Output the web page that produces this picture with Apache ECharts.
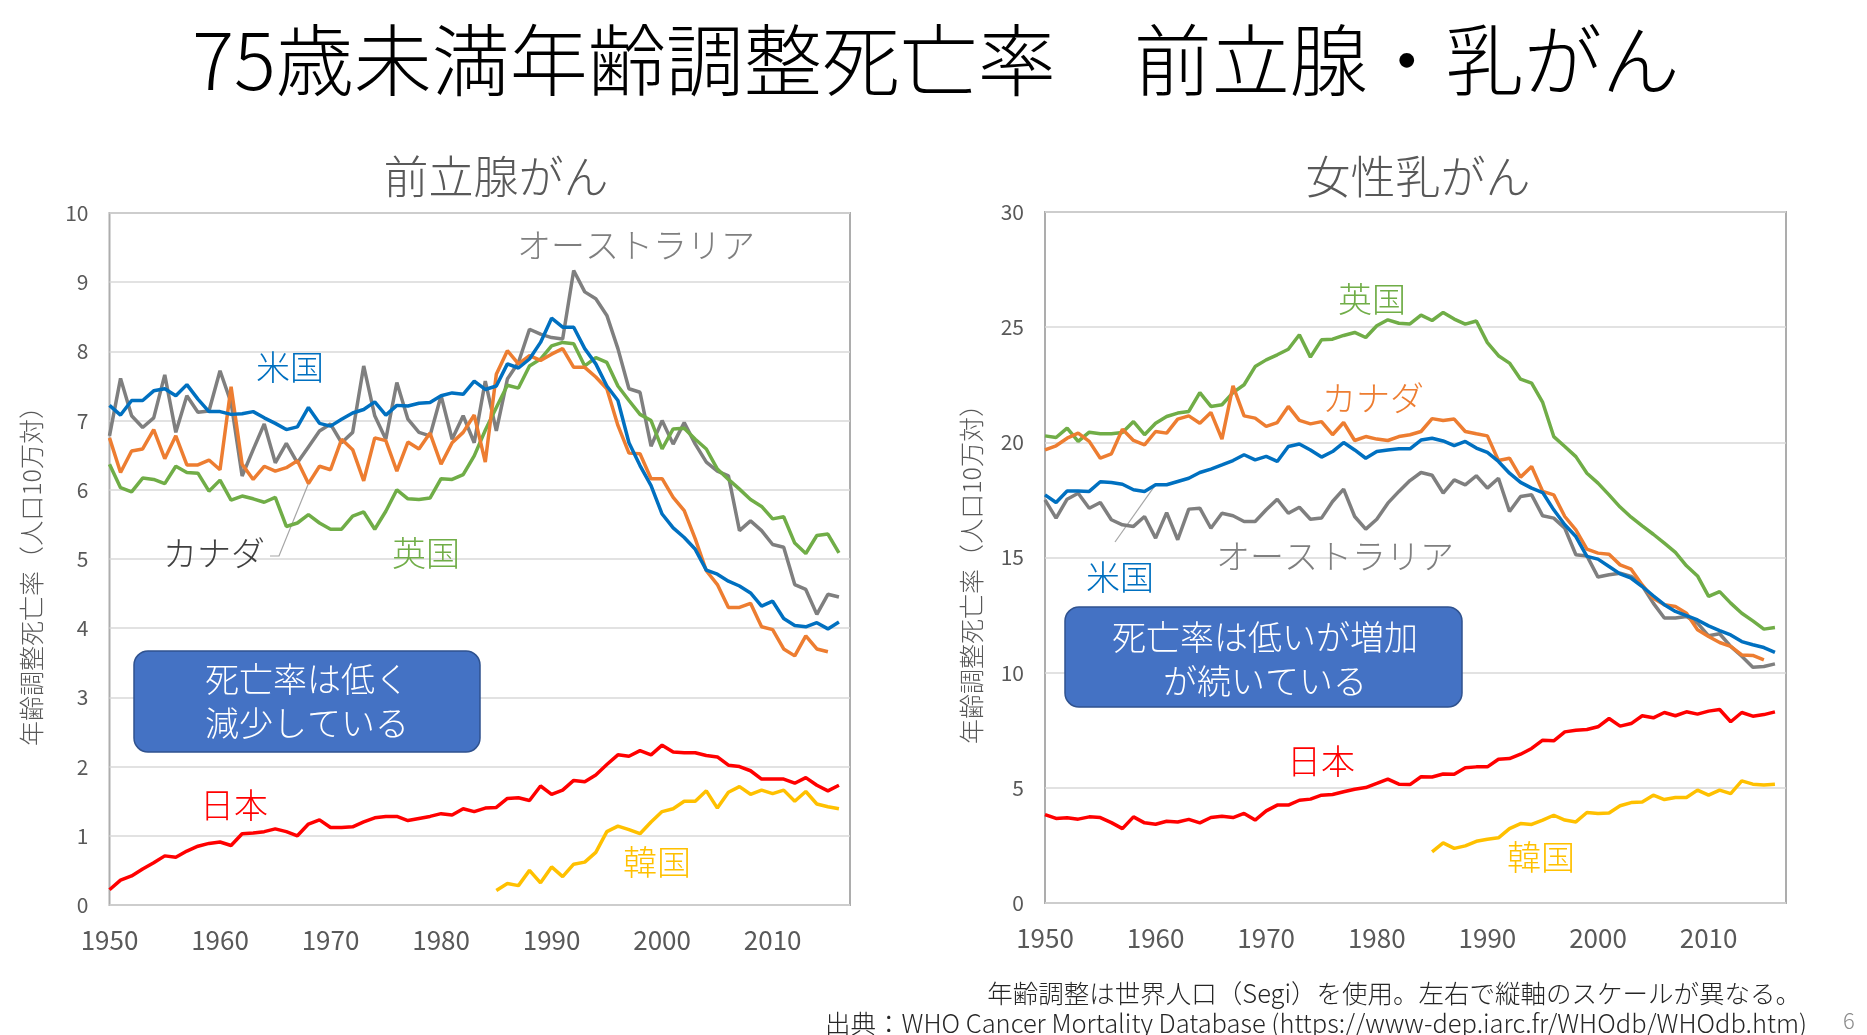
<!DOCTYPE html>
<html>
<head>
<meta charset="utf-8">
<script src="https://cdn.jsdelivr.net/npm/echarts@6.0.0/dist/echarts.min.js"></script>
<style>
  html, body { margin: 0; padding: 0; background: #fff; }
  #main { width: 1867px; height: 1035px; }
</style>
</head>
<body>
<div id="main"></div>
<script>
// 年
const YEARS = [1950,1951,1952,1953,1954,1955,1956,1957,1958,1959,
  1960,1961,1962,1963,1964,1965,1966,1967,1968,1969,
  1970,1971,1972,1973,1974,1975,1976,1977,1978,1979,
  1980,1981,1982,1983,1984,1985,1986,1987,1988,1989,
  1990,1991,1992,1993,1994,1995,1996,1997,1998,1999,
  2000,2001,2002,2003,2004,2005,2006,2007,2008,2009,
  2010,2011,2012,2013,2014,2015,2016];
const X_TICKS = { min: 1950, max: 2017, interval: 10 };

// 前立腺がん (1950-)
const PR_AUS = [6.78,7.61,7.07,6.90,7.04,7.66,6.83,7.36,7.12,7.14,
  7.72,7.26,6.20,6.58,6.95,6.39,6.67,6.39,6.62,6.85,
  6.95,6.68,6.83,7.79,7.07,6.73,7.55,7.02,6.83,6.78,
  7.36,6.73,7.07,6.68,7.57,6.85,7.60,7.84,8.32,8.25,
  8.20,8.18,9.17,8.86,8.76,8.52,8.04,7.46,7.41,6.63,
  7.00,6.66,6.97,6.66,6.40,6.27,6.20,5.41,5.55,5.41,
  5.21,5.17,4.63,4.56,4.20,4.49,4.45];
const PR_UK = [6.37,6.03,5.97,6.17,6.15,6.09,6.34,6.25,6.24,5.98,
  6.14,5.85,5.91,5.87,5.82,5.89,5.47,5.52,5.64,5.52,
  5.43,5.43,5.62,5.68,5.43,5.69,6.00,5.87,5.86,5.88,
  6.16,6.15,6.22,6.49,6.86,7.19,7.51,7.47,7.79,7.89,
  8.08,8.13,8.11,7.79,7.91,7.84,7.50,7.29,7.09,7.00,
  6.59,6.88,6.89,6.73,6.59,6.30,6.15,6.01,5.86,5.76,
  5.58,5.61,5.23,5.08,5.34,5.36,5.09];
const PR_CAN = [6.75,6.25,6.56,6.59,6.87,6.45,6.78,6.36,6.36,6.43,
  6.29,7.49,6.37,6.15,6.34,6.27,6.32,6.42,6.09,6.34,
  6.29,6.73,6.58,6.13,6.75,6.71,6.27,6.69,6.59,6.82,
  6.37,6.68,6.83,7.08,6.40,7.67,8.01,7.82,7.94,7.87,
  7.96,8.04,7.77,7.77,7.63,7.46,6.93,6.53,6.52,6.16,
  6.16,5.89,5.70,5.29,4.83,4.63,4.30,4.30,4.36,4.02,
  3.98,3.70,3.60,3.89,3.70,3.66];
const PR_USA = [7.22,7.08,7.29,7.29,7.43,7.46,7.36,7.52,7.31,7.13,
  7.13,7.09,7.10,7.13,7.04,6.96,6.87,6.91,7.19,6.96,
  6.92,7.02,7.11,7.16,7.27,7.08,7.22,7.21,7.25,7.26,
  7.36,7.40,7.38,7.57,7.45,7.50,7.82,7.76,7.89,8.13,
  8.48,8.35,8.35,8.04,7.82,7.50,7.29,6.68,6.35,6.06,
  5.65,5.45,5.31,5.14,4.84,4.78,4.68,4.61,4.51,4.32,
  4.39,4.14,4.04,4.02,4.08,3.99,4.09];
const PR_JPN = [0.22,0.36,0.42,0.52,0.61,0.71,0.69,0.78,0.85,0.89,
  0.91,0.86,1.03,1.04,1.06,1.10,1.06,1.00,1.17,1.23,
  1.12,1.12,1.13,1.20,1.26,1.28,1.28,1.22,1.25,1.28,
  1.32,1.30,1.39,1.35,1.40,1.41,1.54,1.55,1.51,1.72,
  1.60,1.66,1.80,1.78,1.88,2.03,2.17,2.15,2.23,2.17,
  2.31,2.21,2.20,2.20,2.16,2.14,2.02,2.00,1.94,1.82,
  1.82,1.82,1.76,1.84,1.73,1.65,1.73];
// 韓国は1985年から
const PR_KOR = [0.21,0.31,0.28,0.50,0.32,
  0.55,0.41,0.59,0.62,0.76,1.06,1.14,1.09,1.03,1.20,
  1.35,1.39,1.50,1.50,1.65,1.40,1.63,1.71,1.60,1.66,
  1.61,1.66,1.50,1.64,1.46,1.42,1.39];

// 女性乳がん (1950-)
const BR_AUS = [17.50,16.71,17.53,17.79,17.14,17.39,16.64,16.42,16.35,16.78,
  15.84,16.95,15.77,17.10,17.14,16.27,16.92,16.81,16.56,16.56,
  17.07,17.53,16.92,17.18,16.66,16.71,17.43,17.97,16.78,16.23,
  16.66,17.36,17.87,18.34,18.69,18.57,17.80,18.37,18.15,18.55,
  18.01,18.44,17.00,17.65,17.72,16.81,16.71,16.27,15.12,15.07,
  14.15,14.25,14.32,14.18,13.77,13.02,12.37,12.37,12.44,12.15,
  11.60,11.69,11.14,10.71,10.24,10.27,10.38];
const BR_UK = [20.28,20.21,20.62,20.04,20.44,20.37,20.37,20.43,20.90,20.33,
  20.83,21.12,21.27,21.34,22.16,21.56,21.63,22.16,22.50,23.29,
  23.58,23.80,24.04,24.67,23.70,24.45,24.48,24.64,24.77,24.55,
  25.06,25.32,25.17,25.14,25.52,25.29,25.64,25.35,25.13,25.27,
  24.33,23.76,23.44,22.74,22.57,21.73,20.25,19.82,19.38,18.66,
  18.23,17.72,17.19,16.75,16.37,16.01,15.62,15.22,14.64,14.20,
  13.31,13.52,13.02,12.58,12.25,11.89,11.96];
const BR_CAN = [19.67,19.85,20.18,20.40,20.04,19.31,19.50,20.57,20.08,19.89,
  20.47,20.40,21.01,21.15,20.83,21.30,20.14,22.45,21.15,21.05,
  20.69,20.86,21.56,20.95,20.80,20.90,20.33,20.86,20.08,20.25,
  20.14,20.08,20.25,20.33,20.47,21.03,20.95,21.01,20.47,20.37,
  20.28,19.21,19.31,18.49,18.95,17.87,17.72,16.78,16.20,15.36,
  15.19,15.14,14.68,14.49,13.81,13.23,12.95,12.87,12.58,11.86,
  11.57,11.31,11.14,10.77,10.75,10.56];
const BR_USA = [17.72,17.39,17.89,17.89,17.87,18.29,18.26,18.18,17.94,17.87,
  18.16,18.16,18.30,18.44,18.69,18.84,19.02,19.21,19.46,19.24,
  19.39,19.17,19.82,19.93,19.67,19.36,19.60,19.99,19.67,19.31,
  19.60,19.67,19.72,19.72,20.10,20.18,20.06,19.86,20.04,19.75,
  19.56,19.17,18.66,18.26,18.01,17.82,17.07,16.42,15.91,15.05,
  14.93,14.61,14.29,14.10,13.74,13.34,12.95,12.66,12.48,12.29,
  12.03,11.83,11.64,11.35,11.21,11.09,10.88];
const BR_JPN = [3.84,3.67,3.70,3.64,3.74,3.71,3.49,3.23,3.74,3.48,
  3.42,3.55,3.52,3.63,3.48,3.71,3.77,3.71,3.89,3.60,
  4.00,4.25,4.25,4.46,4.51,4.68,4.71,4.83,4.94,5.01,
  5.19,5.38,5.16,5.14,5.48,5.47,5.60,5.59,5.87,5.91,
  5.91,6.24,6.27,6.46,6.71,7.07,7.04,7.43,7.50,7.53,
  7.65,8.01,7.68,7.79,8.13,8.04,8.27,8.13,8.30,8.20,
  8.33,8.40,7.87,8.27,8.11,8.18,8.30];
const BR_KOR = [2.22,2.61,2.37,2.48,2.68,
  2.77,2.83,3.23,3.45,3.41,3.60,3.81,3.60,3.52,3.93,
  3.89,3.91,4.22,4.36,4.39,4.68,4.49,4.58,4.58,4.90,
  4.68,4.90,4.75,5.30,5.16,5.12,5.16];

const COLORS = {
  aus: '#7F7F7F', uk: '#70AD47', can: '#ED7D31',
  usa: '#0070C0', jpn: '#FF0000', kor: '#FFC000'
};
const FONT = '"Noto Sans CJK JP", "Noto Sans", sans-serif';
const AXIS_GRAY = '#595959';

function pairs(values, startYear) {
  const i0 = YEARS.indexOf(startYear || 1950);
  return values.map((v, i) => [YEARS[i0 + i], v]);
}

function line(name, color, values, gi, startYear) {
  return {
    type: 'line', name: name,
    xAxisIndex: gi, yAxisIndex: gi,
    data: pairs(values, startYear),
    showSymbol: false, symbol: 'none',
    lineStyle: { color: color, width: 3.5 },
    itemStyle: { color: color },
    emphasis: { disabled: true },
    silent: true
  };
}

function xAxis(gi) {
  return {
    gridIndex: gi, type: 'value',
    min: X_TICKS.min, max: X_TICKS.max, interval: X_TICKS.interval,
    axisLine: { show: false }, axisTick: { show: false }, splitLine: { show: false },
    axisLabel: { color: AXIS_GRAY, fontSize: 26, fontFamily: FONT, margin: 22,
      showMaxLabel: false, formatter: v => String(v) }
  };
}

function yAxis(gi, max, interval) {
  return {
    gridIndex: gi, type: 'value', min: 0, max: max, interval: interval,
    axisLine: { show: false }, axisTick: { show: false },
    splitLine: { lineStyle: { color: '#D9D9D9', width: 1.5 } },
    axisLabel: { color: AXIS_GRAY, fontSize: 21, fontFamily: FONT, margin: 21 }
  };
}

const chart = echarts.init(document.getElementById('main'));

const option = {
  animation: false,
  backgroundColor: '#ffffff',
  grid: [
    { left: 109.5, top: 213, width: 740.5, height: 692, show: true,
      borderColor: '#ADADAD', borderWidth: 2, backgroundColor: 'transparent' },
    { left: 1045, top: 212, width: 741, height: 691, show: true,
      borderColor: '#ADADAD', borderWidth: 2, backgroundColor: 'transparent' }
  ],
  xAxis: [xAxis(0), xAxis(1)],
  yAxis: [yAxis(0, 10, 1), yAxis(1, 30, 5)],
  series: [
    line('オーストラリア', COLORS.aus, PR_AUS, 0),
    line('英国', COLORS.uk, PR_UK, 0),
    line('カナダ', COLORS.can, PR_CAN, 0),
    line('米国', COLORS.usa, PR_USA, 0),
    line('日本', COLORS.jpn, PR_JPN, 0),
    line('韓国', COLORS.kor, PR_KOR, 0, 1985),
    line('オーストラリア', COLORS.aus, BR_AUS, 1),
    line('英国', COLORS.uk, BR_UK, 1),
    line('カナダ', COLORS.can, BR_CAN, 1),
    line('米国', COLORS.usa, BR_USA, 1),
    line('日本', COLORS.jpn, BR_JPN, 1),
    line('韓国', COLORS.kor, BR_KOR, 1, 1985)
  ]
};
chart.setOption(option);

function txt(text, x, y, size, color, extra, align) {
  return Object.assign({
    type: 'text', x: x, y: y, silent: true,
    style: { text: text, fill: color, fontSize: size, fontFamily: FONT,
      fontWeight: 300, align: align || 'center', verticalAlign: 'middle' }
  }, extra || {});
}

function box(x, y, w, h, lines, cx, ys) {
  const els = [{
    type: 'rect', silent: true,
    shape: { x: x, y: y, width: w, height: h, r: 14 },
    style: { fill: '#4472C4', stroke: '#2F528F', lineWidth: 1.5 }
  }];
  lines.forEach((t, i) => els.push(txt(t, cx, ys[i], 34, '#ffffff')));
  return els;
}

// 引き出し線は系列上の点へ
const canPt = chart.convertToPixel({ gridIndex: 0 }, [1968, PR_CAN[YEARS.indexOf(1968)]]);
const usaPt = chart.convertToPixel({ gridIndex: 1 }, [1960, BR_USA[YEARS.indexOf(1960)]]);

const graphics = [
  txt('75歳未満年齢調整死亡率　前立腺・乳がん', 936, 60, 78, '#000000'),
  txt('前立腺がん', 496, 177, 45, AXIS_GRAY),
  txt('女性乳がん', 1418, 177, 45, AXIS_GRAY),
  txt('年齢調整死亡率（人口10万対）', 31, 570, 25, AXIS_GRAY, { rotation: Math.PI / 2 }),
  txt('年齢調整死亡率（人口10万対）', 971, 568, 25, AXIS_GRAY, { rotation: Math.PI / 2 }),

  txt('オーストラリア', 636, 245, 34, COLORS.aus),
  txt('米国', 290, 367, 34, COLORS.usa),
  txt('カナダ', 214, 553, 34, '#404040'),
  txt('英国', 426, 553, 34, COLORS.uk),
  txt('日本', 234, 805, 34, COLORS.jpn),
  txt('韓国', 657, 862, 34, COLORS.kor),
  { type: 'polyline', silent: true,
    shape: { points: [[270, 556], [279, 556], canPt] },
    style: { stroke: '#A6A6A6', lineWidth: 1.2, fill: null } },

  txt('英国', 1372, 299, 34, COLORS.uk),
  txt('カナダ', 1373, 398, 34, COLORS.can),
  txt('米国', 1120, 577, 34, COLORS.usa),
  txt('オーストラリア', 1335, 556, 34, COLORS.aus),
  txt('日本', 1321, 761, 34, COLORS.jpn),
  txt('韓国', 1541, 857, 34, COLORS.kor),
  { type: 'polyline', silent: true,
    shape: { points: [[1115, 542], usaPt] },
    style: { stroke: '#A6A6A6', lineWidth: 1.2, fill: null } }
]
  .concat(box(134, 651, 346, 101, ['死亡率は低く', '減少している'], 307, [679, 723]))
  .concat(box(1065, 607, 397, 100, ['死亡率は低いが増加', 'が続いている'], 1265, [637, 681]))
  .concat([
    txt('年齢調整は世界人口（Segi）を使用。左右で縦軸のスケールが異なる。', 1801, 993, 25.5, '#262626', null, 'right'),
    txt('出典：WHO Cancer Mortality Database (https://www-dep.iarc.fr/WHOdb/WHOdb.htm)', 1807, 1023, 25.5, '#262626', null, 'right'),
    txt('6', 1849, 1021, 22, '#8C8C8C')
  ]);

chart.setOption({ graphic: graphics });
</script>
</body>
</html>
